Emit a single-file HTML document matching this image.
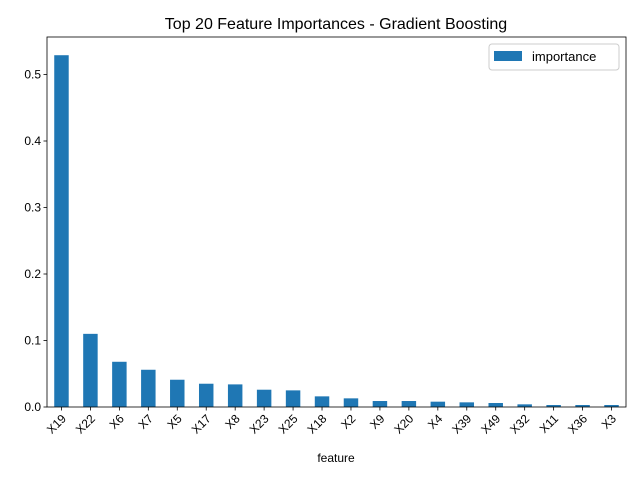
<!DOCTYPE html>
<html><head><meta charset="utf-8"><style>
body{margin:0;background:#fff;font-family:"Liberation Sans","DejaVu Sans",sans-serif;}
</style></head><body>
<svg id="c" width="640" height="480" xmlns="http://www.w3.org/2000/svg"></svg>
<script>
const categories=["X19","X22","X6","X7","X5","X17","X8","X23","X25","X18","X2","X9","X20","X4","X39","X49","X32","X11","X36","X3"];
const importance=[0.529,0.110,0.068,0.056,0.041,0.035,0.034,0.026,0.025,0.016,0.013,0.009,0.009,0.008,0.007,0.006,0.004,0.003,0.003,0.003];
const yTicks=[0,0.1,0.2,0.3,0.4,0.5];
const yTickLabels=["0.0","0.1","0.2","0.3","0.4","0.5"];
const svg=document.getElementById('c');
const NS="http://www.w3.org/2000/svg";
const L=47,R=626,T=37,B=407;
const y=v=>B-v*665;
const step=(R-L)/categories.length;
const x=i=>L+step*(i+0.5);
function mk(t,a,txt){const e=document.createElementNS(NS,t);for(const k in a)e.setAttribute(k,a[k]);if(txt!==undefined)e.textContent=txt;svg.appendChild(e);return e;}
let e;
e=mk('text',{x:336,y:29,'text-anchor':'middle','font-size':16,fill:'#000'},'Top 20 Feature Importances - Gradient Boosting');


importance.forEach((v,i)=>{
 const b=mk('rect',{x:x(i)-step/4,y:y(v),width:step/2,height:B-y(v),fill:'#1f77b4'});
 
 
 mk('line',{x1:x(i),x2:x(i),y1:B,y2:B+3.5,stroke:'#000','stroke-width':0.8});
 const t=mk('text',{x:0,y:0,'font-size':12,'text-anchor':'end',transform:`translate(${x(i)-1},${B+6}) rotate(-45)`,dy:'0.75em'},categories[i]);
 
 
});
yTicks.forEach((v,i)=>{
 mk('line',{x1:L-3.5,x2:L,y1:y(v),y2:y(v),stroke:'#000','stroke-width':0.8});
 const t=mk('text',{x:L-6,y:y(v)+4,'font-size':12,'text-anchor':'end'},yTickLabels[i]);
 
 
});
e=mk('rect',{x:L,y:T,width:R-L,height:B-T,fill:'none',stroke:'#000','stroke-width':0.8});


e=mk('text',{x:336,y:462,'font-size':12,'text-anchor':'middle'},'feature');


e=mk('rect',{x:489,y:44,width:130,height:26,fill:'#fff',stroke:'#ccc',rx:3});


e=mk('rect',{x:494,y:51,width:28,height:10,fill:'#1f77b4'});


e=mk('text',{x:532,y:61,'font-size':13},'importance');


</script>
</body></html>
